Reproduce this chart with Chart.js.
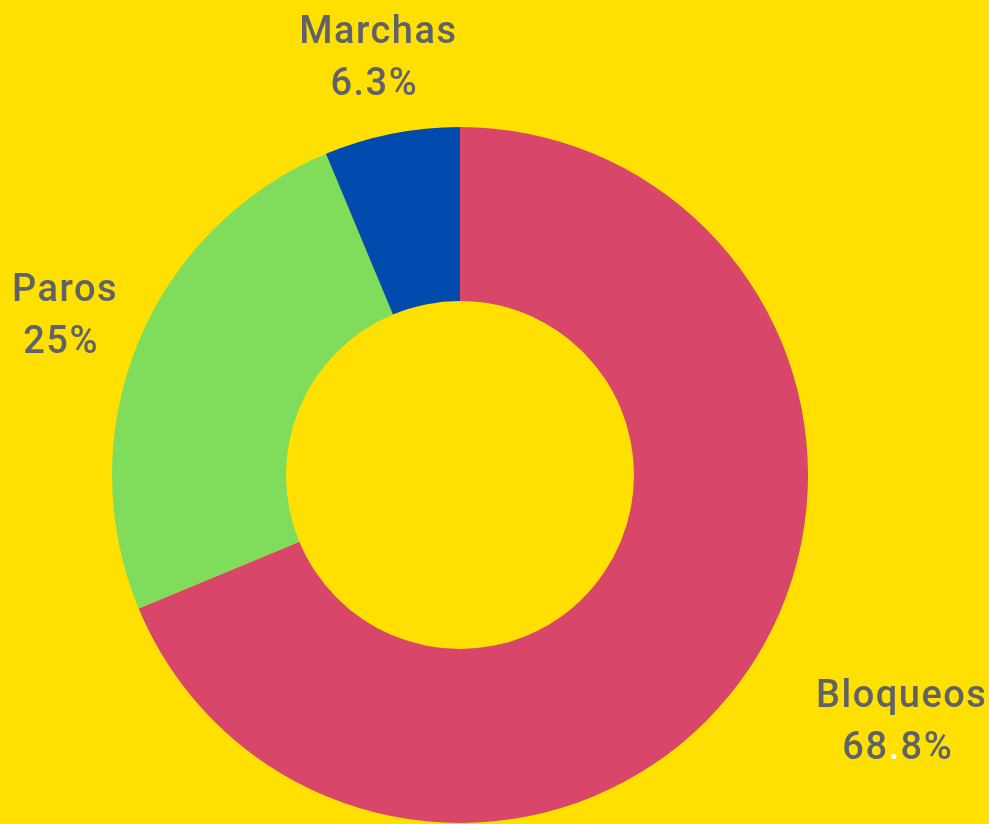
<!DOCTYPE html>
<html>
<head>
<meta charset="utf-8">
<script src="https://cdn.jsdelivr.net/npm/chart.js@4/dist/chart.umd.min.js"></script>
<style>
  html, body { margin: 0; padding: 0; background: #FFE000; }
  #wrap { width: 989px; height: 824px; position: relative; }
</style>
</head>
<body>
<div id="wrap"><canvas id="c" width="989" height="824"></canvas></div>
<script>
const categories = ['Bloqueos', 'Paros', 'Marchas'];
const values = [68.8, 25, 6.3];
const sliceColors = ['#D8466A', '#80DC5B', '#004BAD'];

const outsideLabels = {
  id: 'outsideLabels',
  afterDatasetsDraw(chart, args, opts) {
    const ctx = chart.ctx;
    const meta = chart.getDatasetMeta(0);
    const ds = chart.data.datasets[0];
    ctx.save();
    ctx.font = opts.font;
    ctx.letterSpacing = opts.letterSpacing;
    ctx.fillStyle = opts.color;
    ctx.textAlign = 'center';
    ctx.textBaseline = 'middle';
    meta.data.forEach((arc, i) => {
      const p = arc.getProps(['x', 'y', 'startAngle', 'endAngle', 'outerRadius'], true);
      const mid = (p.startAngle + p.endAngle) / 2;
      const vx = Math.cos(mid), vy = Math.sin(mid);
      const ax = p.x + vx * p.outerRadius;
      const ay = p.y + vy * p.outerRadius;
      const lines = [chart.data.labels[i], ds.data[i] + '%'];
      const w = Math.max(...lines.map(l => ctx.measureText(l).width));
      const h = opts.lineHeight * lines.length;
      const vs = 1 / Math.max(Math.abs(vx), Math.abs(vy));
      let dx = (w / 2) * vx * vs + opts.offset * vx;
      let dy = (h / 2) * vy * vs + opts.offset * vy;
      const nudge = (opts.nudge && opts.nudge[i]) || [0, 0];
      const cx = ax + dx + nudge[0];
      const cy = ay + dy + nudge[1];
      lines.forEach((line, k) => {
        const ly = cy - h / 2 + opts.lineHeight * (k + 0.5);
        const lx = cx + (k === 1 ? opts.secondLineShift : 0);
        if (k === 1 && i === opts.whiteDotIndex && line.includes('.')) {
          const parts = line.split('.');
          const fullW = ctx.measureText(line).width;
          let x = lx - fullW / 2;
          ctx.textAlign = 'left';
          ctx.fillStyle = opts.color;
          ctx.fillText(parts[0], x, ly);
          x += ctx.measureText(parts[0]).width;
          ctx.fillStyle = '#FFFFFF';
          ctx.fillText('.', x, ly);
          x += ctx.measureText('.').width;
          ctx.fillStyle = opts.color;
          ctx.fillText(parts[1], x, ly);
          ctx.textAlign = 'center';
        } else {
          ctx.fillStyle = opts.color;
          ctx.fillText(line, lx, ly);
        }
      });
    });
    ctx.restore();
  }
};

new Chart(document.getElementById('c'), {
  type: 'doughnut',
  data: {
    labels: categories,
    datasets: [{
      data: values,
      backgroundColor: sliceColors,
      borderWidth: 0,
      hoverOffset: 0,
      offset: 0
    }]
  },
  options: {
    responsive: false,
    animation: false,
    cutout: '50%',
    layout: { padding: { top: 127, bottom: 1, left: 111, right: 180 } },
    plugins: {
      legend: { display: false },
      tooltip: { enabled: false },
      outsideLabels: {
        font: '500 38px Roboto',
        letterSpacing: '1.5px',
        color: '#5F6368',
        lineHeight: 52,
        offset: 38,
        whiteDotIndex: 0,
        secondLineShift: -4,
        nudge: [[35, 0], [15, 11], [10, 15]]
      }
    }
  },
  plugins: [outsideLabels]
});
</script>
</body>
</html>
